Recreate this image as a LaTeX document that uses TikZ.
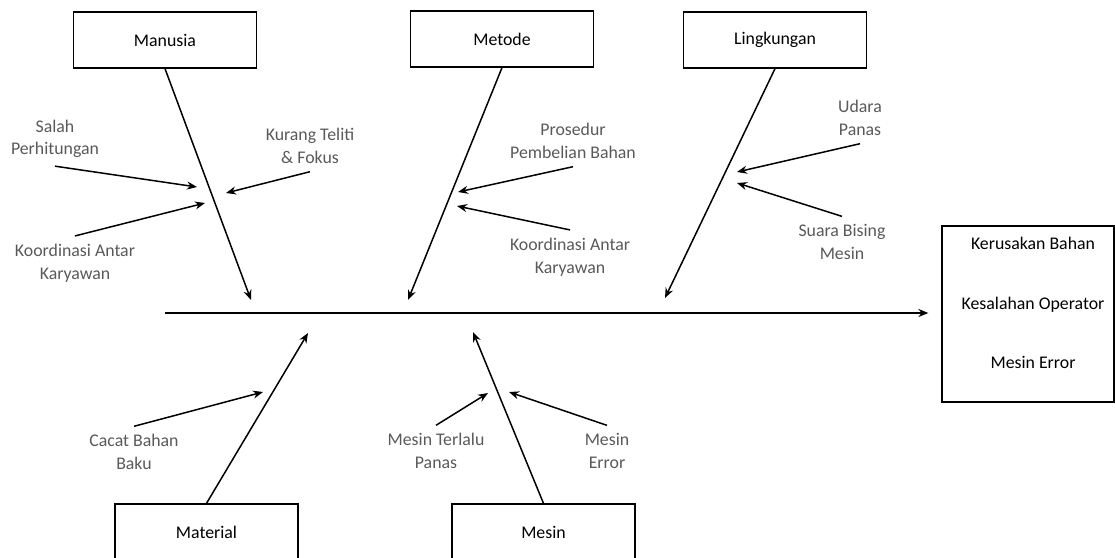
\documentclass[tikz,border=0pt]{standalone}
\usepackage{fontspec}
\setmainfont{Carlito}
\usetikzlibrary{positioning, arrows.meta}
\definecolor{labelgray}{RGB}{89,89,89}

\begin{document}
\begin{tikzpicture}[x=1pt, y=-1pt,
  catbox/.style={draw, line width=1.3pt, minimum width=183pt, minimum height=56pt,
    font=\fontsize{17.8}{22}\selectfont},
  cause/.style={align=center, inner sep=8pt, text=labelgray,
    font=\fontsize{17.8}{22.5}\selectfont},
  bone/.style={line width=1.5pt, -{Stealth[length=10pt, width=8pt]}}]
\useasboundingbox (0,0) rectangle (1115,557);

% Category boxes (top row, then bottom row)
\node[catbox] (manusia)    at (165,40)    {Manusia};
\node[catbox] (metode)     at (502,39)    {Metode};
\node[catbox] (lingkungan) at (775,40)    {Lingkungan};
\node[catbox] (material)   at (206.5,532) {Material};
\node[catbox] (mesin)      at (543.5,532) {Mesin};

% Effect box on the right
\node[draw, line width=1.3pt, minimum width=172pt, minimum height=176pt] (effect) at (1028,314) {};
\node[align=center, font=\fontsize{17.8}{59.5}\selectfont] (effecttext) at (1033,303)
  {Kerusakan Bahan\\Kesalahan Operator\\Mesin Error};

% Main spine
\coordinate (tail) at (165,313);
\draw[bone, line width=1.7pt, shorten >=13pt] (tail) -- (tail -| effect.west);

% Tips of the category bones
\coordinate (manusia-tip)    at (251,300);
\coordinate (metode-tip)     at (408,300);
\coordinate (lingkungan-tip) at (665,298);
\coordinate (material-tip)   at (308,333);
\coordinate (mesin-tip)      at (473,332);

\draw[bone] (manusia.south)    -- (manusia-tip);
\draw[bone] (metode.south)     -- (metode-tip);
\draw[bone] (lingkungan.south) -- (lingkungan-tip);
\draw[bone] (material.north)   -- (material-tip);
\draw[bone] (mesin.north)      -- (mesin-tip);

% Causes
\node[cause] (salah)    at (55,139)  {Salah\\Perhitungan};
\node[cause] (kurang)   at (310,146) {Kurang Teliti\\\& Fokus};
\node[cause] (koorA)    at (75,263)  {Koordinasi Antar\\Karyawan};
\node[cause] (prosedur) at (573,141) {Prosedur\\Pembelian Bahan};
\node[cause] (koorB)    at (570,257) {Koordinasi Antar\\Karyawan};
\node[cause] (udara)    at (860,118) {Udara\\Panas};
\node[cause] (suara)    at (842,242) {Suara Bising\\Mesin};
\node[cause] (cacat)    at (134,452) {Cacat Bahan\\Baku};
\node[cause] (terlalu)  at (436,451) {Mesin Terlalu\\Panas};
\node[cause] (merror)   at (607,451) {Mesin\\Error};

% End points of the cause arrows
\coordinate (salah-e)    at (197,187);
\coordinate (kurang-e)   at (226,193);
\coordinate (koorA-e)    at (205,203);
\coordinate (prosedur-e) at (458,192);
\coordinate (koorB-e)    at (457,206);
\coordinate (udara-e)    at (737,172);
\coordinate (suara-e)    at (737,183);
\coordinate (cacat-e)    at (263,392);
\coordinate (terlalu-e)  at (488,393);
\coordinate (merror-e)   at (509,392);

\draw[bone] (salah.south)    -- (salah-e);
\draw[bone] (kurang.south)   -- (kurang-e);
\draw[bone] (koorA.north)    -- (koorA-e);
\draw[bone] (prosedur.south) -- (prosedur-e);
\draw[bone] (koorB.north)    -- (koorB-e);
\draw[bone] (udara.south)    -- (udara-e);
\draw[bone] (suara.north)    -- (suara-e);
\draw[bone] (cacat.north)    -- (cacat-e);
\draw[bone] (terlalu.north)  -- (terlalu-e);
\draw[bone] (merror.north)   -- (merror-e);
\end{tikzpicture}
\end{document}
